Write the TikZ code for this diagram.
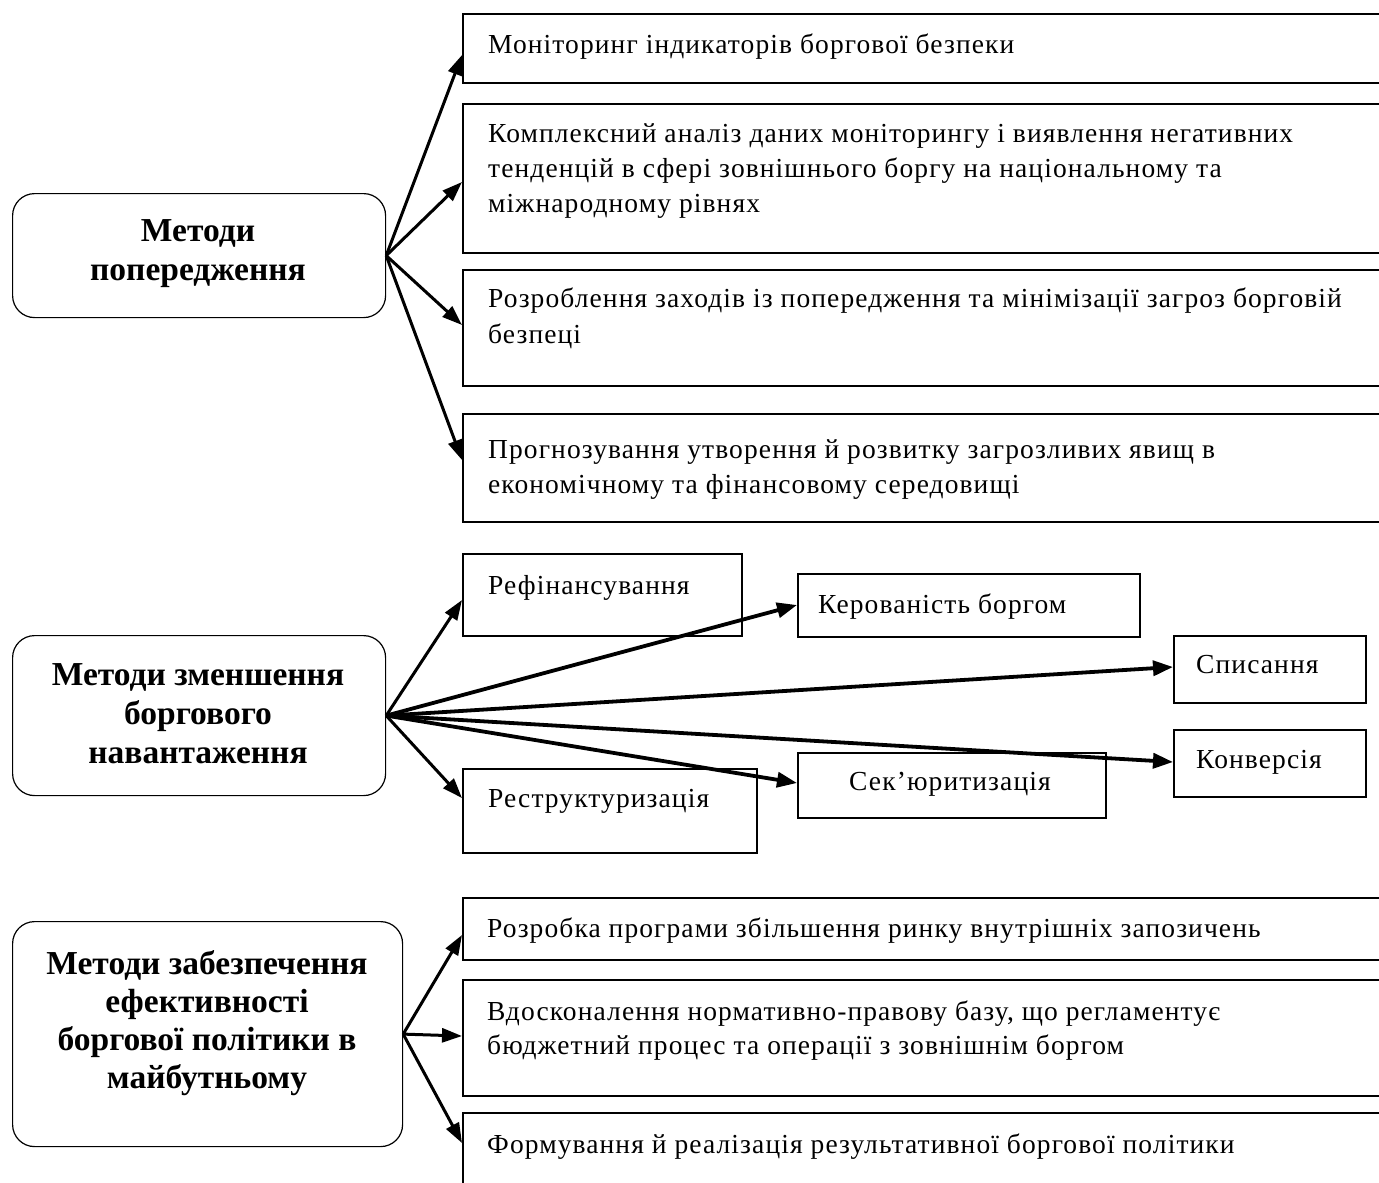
\documentclass[tikz,border=0pt]{standalone}
\usepackage{fontspec}
\setmainfont{Liberation Serif}
\newfontfamily\boxfont[LetterSpace=4.0]{Liberation Serif}
\usetikzlibrary{arrows.meta,calc}
\begin{document}
\begin{tikzpicture}[x=1pt,y=-1pt,
  box/.style={draw, line width=1.6pt, rectangle, inner sep=0pt, anchor=north west},
  rbox/.style={draw, line width=1.2pt, rounded corners=22pt, inner sep=0pt, anchor=north west},
  txt/.style={inner sep=0pt, anchor=base west, font=\boxfont\fontsize{27.5}{33}\selectfont},
  ttl/.style={inner sep=0pt, anchor=base, font=\fontsize{33.5}{39}\selectfont\bfseries},
  arr/.style={line width=3pt, -{Triangle[length=20pt,width=14pt]}},
  arrb/.style={line width=3.8pt, -{Triangle[length=20pt,width=15pt]}},
]
\useasboundingbox (0,0) rectangle (1379,1183);
\clip (0,0) rectangle (1379,1183);

% ---------- left rounded boxes ----------
\node[rbox, minimum width=373pt, minimum height=124pt] (p1) at (12,193) {};
\node[rbox, minimum width=373pt, minimum height=160pt] (p2) at (12,635) {};
\node[rbox, minimum width=390pt, minimum height=225pt] (p3) at (12,921) {};

\node[ttl] (p1t1) at (198,241) {Методи};
\node[ttl] (p1t2) at (198,280) {попередження};
\node[ttl] (p2t1) at (198,685) {Методи зменшення};
\node[ttl] (p2t2) at (198,724) {боргового};
\node[ttl] (p2t3) at (198,763) {навантаження};
\node[ttl] (p3t1) at (207,974) {Методи забезпечення};
\node[ttl] (p3t2) at (207,1012) {ефективності};
\node[ttl] (p3t3) at (207,1050) {боргової політики в};
\node[ttl] (p3t4) at (207,1088) {майбутньому};

% ---------- top group ----------
\node[box, minimum width=940pt, minimum height=69pt]  (a1) at (462,13) {};
\node[box, minimum width=940pt, minimum height=149pt] (a2) at (462,103) {};
\node[box, minimum width=940pt, minimum height=116pt] (a3) at (462,269) {};
\node[box, minimum width=940pt, minimum height=108pt] (a4) at (462,413) {};

\node[txt] (a1t1) at (488,53) {Моніторинг індикаторів боргової безпеки};
\node[txt] (a2t1) at (488,142) {Комплексний аналіз даних моніторингу і виявлення негативних};
\node[txt] (a2t2) at (488,177) {тенденцій в сфері зовнішнього боргу на національному та};
\node[txt] (a2t3) at (488,212) {міжнародному рівнях};
\node[txt] (a3t1) at (488,307) {Розроблення заходів із попередження та мінімізації загроз борговій};
\node[txt] (a3t2) at (488,343) {безпеці};
\node[txt] (a4t1) at (488,458) {Прогнозування утворення й розвитку загрозливих явищ в};
\node[txt] (a4t2) at (488,493) {економічному та фінансовому середовищі};

% ---------- middle group ----------
\node[box, minimum width=279pt, minimum height=82pt] (m1) at (462,553) {};
\node[box, minimum width=342pt, minimum height=63pt] (m2) at (797,573) {};
\node[box, minimum width=192pt, minimum height=67pt] (m3) at (1173,635) {};
\node[box, minimum width=192pt, minimum height=67pt] (m4) at (1173,729) {};
\node[box, minimum width=308pt, minimum height=65pt] (m5) at (797,752) {};
\node[box, minimum width=294pt, minimum height=84pt] (m6) at (462,768) {};

\node[txt] (m1t) at (488,594) {Рефінансування};
\node[txt] (m2t) at (818,613) {Керованість боргом};
\node[txt] (m3t) at (1196,673) {Списання};
\node[txt] (m4t) at (1196,768) {Конверсія};
\node[txt] (m5t) at (849,790) {Сек’юритизація};
\node[txt] (m6t) at (488,807) {Реструктуризація};

% ---------- bottom group ----------
\node[box, minimum width=940pt, minimum height=62pt]  (b1) at (462,897) {};
\node[box, minimum width=940pt, minimum height=116pt] (b2) at (462,979) {};
\node[box, minimum width=940pt, minimum height=100pt] (b3) at (462,1112) {};

\node[txt] (b1t1) at (487,937) {Розробка програми збільшення ринку внутрішніх запозичень};
\node[txt] (b2t1) at (487,1020) {Вдосконалення нормативно-правову базу, що регламентує};
\node[txt] (b2t2) at (487,1054) {бюджетний процес та операції з зовнішнім боргом};
\node[txt] (b3t1) at (487,1153) {Формування й реалізація результативної боргової політики};

% ---------- arrows ----------
\draw[arr] (p1.east) -- ($(a1.north west)+(0,42)$);
\draw[arr] (p1.east) -- ($(a2.north west)+(0,79)$);
\draw[arr] (p1.east) -- ($(a3.north west)+(0,56)$);
\draw[arr] (p1.east) -- ($(a4.north west)+(0,47)$);

\draw[arr] (p2.east) -- ($(m1.north west)+(0,47)$);
\draw[arrb] (p2.east) -- ($(m2.north west)+(0,32)$);
\draw[arrb] (p2.east) -- ($(m3.north west)+(0,32)$);
\draw[arrb] (p2.east) -- ($(m4.north west)+(0,33)$);
\draw[arrb] (p2.east) -- ($(m5.north west)+(0,31)$);
\draw[arr] (p2.east) -- ($(m6.north west)+(0,30)$);

\draw[arr] (p3.east) -- ($(b1.north west)+(0,38)$);
\draw[arr] (p3.east) -- ($(b2.north west)+(0,57)$);
\draw[arr] (p3.east) -- ($(b3.north west)+(0,31)$);
\end{tikzpicture}
\end{document}
